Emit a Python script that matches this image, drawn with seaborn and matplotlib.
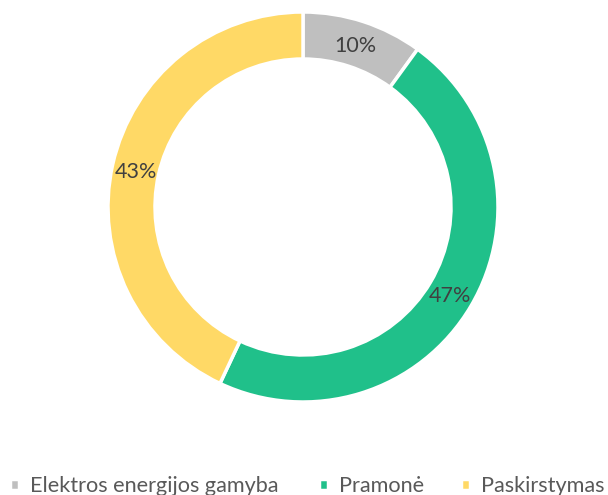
"""Donut chart: share by sector."""

import matplotlib.pyplot as plt
import numpy as np
import seaborn as sns

labels = ["Elektros energijos gamyba", "Pramonė", "Paskirstymas"]
shares = [10, 47, 43]
colors = ["#BFBFBF", "#20C08A", "#FFD966"]
legend_x = [10, 319, 461]  # left edge of each legend entry, in pixels

sns.set_style("white")
plt.rcParams["font.family"] = ["Lato", "DejaVu Sans"]

fig = plt.figure(figsize=(6.08, 4.95), dpi=100)
ax = fig.add_axes([(303 - 195) / 608, (495 - 207 - 195) / 495, 390 / 608, 390 / 495])

wedges, texts = ax.pie(
    shares,
    colors=colors,
    startangle=90,
    counterclock=False,
    radius=1.0,
    wedgeprops={"width": 47 / 195, "edgecolor": "white", "linewidth": 2.5},
)

# percentage labels in the middle of the ring
total = sum(shares)
for w, val in zip(wedges, shares):
    mid = np.deg2rad((w.theta1 + w.theta2) / 2)
    r = 0.877
    ax.text(r * np.cos(mid), r * np.sin(mid) - 0.01, f"{round(val / total * 100)}%",
            ha="center", va="center", fontsize=15.5, color="#404040")

ax.set_xlim(-1, 1)
ax.set_ylim(-1, 1)
ax.set_aspect("equal")
ax.axis("off")

# one legend per entry so the spacing follows the reference
for w, lab, x in zip(wedges, labels, legend_x):
    fig.legend(
        [w],
        [lab],
        loc="center left",
        bbox_to_anchor=(x / 608, 9 / 495),
        frameon=False,
        fontsize=15.6,
        labelcolor="#595959",
        handlelength=0.42,
        handleheight=0.42,
        handletextpad=0.5,
        borderpad=0,
        borderaxespad=0,
    )

fig.savefig("out.png", dpi=100)
